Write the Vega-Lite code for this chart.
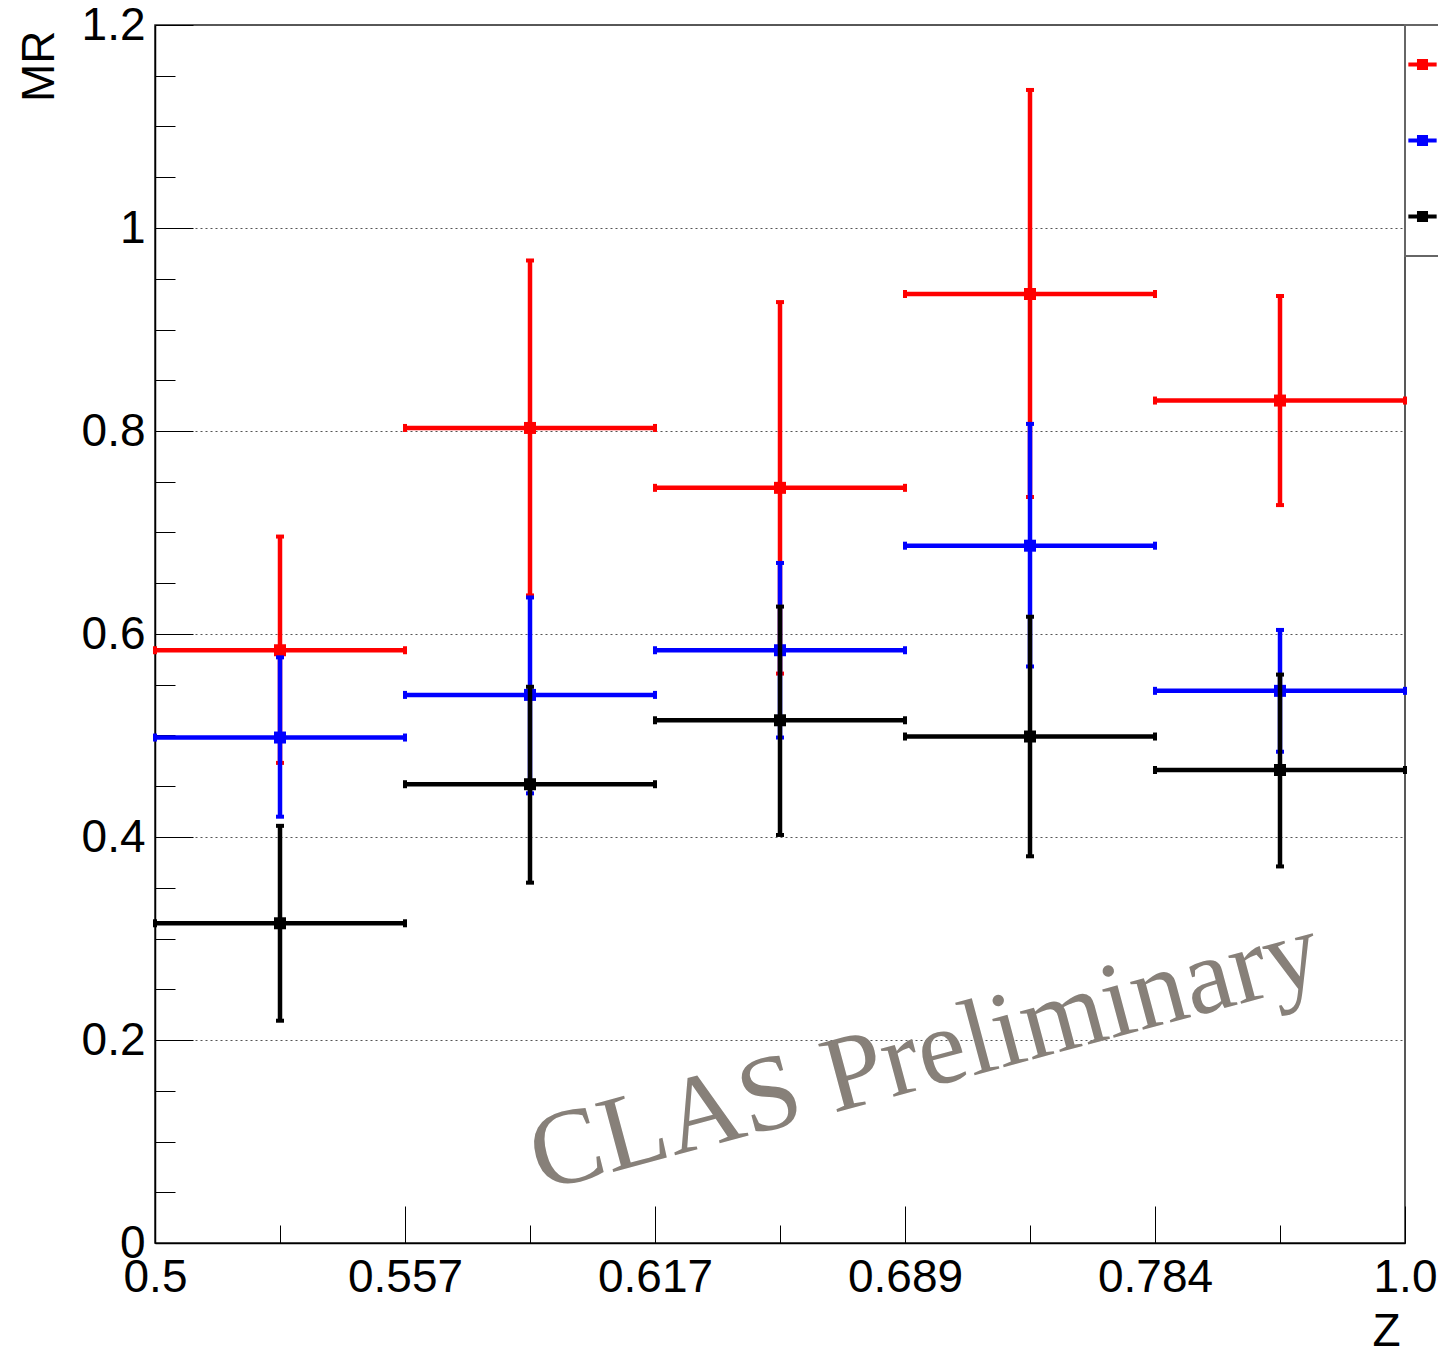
{
  "$schema": "https://vega.github.io/schema/vega-lite/v6.json",
  "width": 1250,
  "height": 1218,
  "autosize": {"type": "none"},
  "padding": {"left": 155, "top": 25, "right": 33, "bottom": 107},
  "background": "white",
  "config": {
    "view": {"stroke": "#222", "strokeWidth": 1.5},
    "font": "Liberation Sans",
    "axis": {"domainColor": "#000", "tickColor": "#000", "labelColor": "#000", "titleColor": "#000"}
  },
  "resolve": {"axis": {"x": "independent", "y": "independent"}},
  "data": {
    "values": [
      {"series": "C", "bin": 0, "xlo": 0, "xc": 0.5, "xhi": 1, "mr": 0.584, "lo": 0.473, "hi": 0.696},
      {"series": "C", "bin": 1, "xlo": 1, "xc": 1.5, "xhi": 2, "mr": 0.803, "lo": 0.638, "hi": 0.968},
      {"series": "C", "bin": 2, "xlo": 2, "xc": 2.5, "xhi": 3, "mr": 0.744, "lo": 0.561, "hi": 0.927},
      {"series": "C", "bin": 3, "xlo": 3, "xc": 3.5, "xhi": 4, "mr": 0.935, "lo": 0.735, "hi": 1.136},
      {"series": "C", "bin": 4, "xlo": 4, "xc": 4.5, "xhi": 5, "mr": 0.830, "lo": 0.727, "hi": 0.933},
      {"series": "Fe", "bin": 0, "xlo": 0, "xc": 0.5, "xhi": 1, "mr": 0.498, "lo": 0.420, "hi": 0.577},
      {"series": "Fe", "bin": 1, "xlo": 1, "xc": 1.5, "xhi": 2, "mr": 0.540, "lo": 0.443, "hi": 0.636},
      {"series": "Fe", "bin": 2, "xlo": 2, "xc": 2.5, "xhi": 3, "mr": 0.584, "lo": 0.498, "hi": 0.670},
      {"series": "Fe", "bin": 3, "xlo": 3, "xc": 3.5, "xhi": 4, "mr": 0.687, "lo": 0.568, "hi": 0.807},
      {"series": "Fe", "bin": 4, "xlo": 4, "xc": 4.5, "xhi": 5, "mr": 0.544, "lo": 0.484, "hi": 0.604},
      {"series": "Pb", "bin": 0, "xlo": 0, "xc": 0.5, "xhi": 1, "mr": 0.315, "lo": 0.219, "hi": 0.411},
      {"series": "Pb", "bin": 1, "xlo": 1, "xc": 1.5, "xhi": 2, "mr": 0.452, "lo": 0.355, "hi": 0.548},
      {"series": "Pb", "bin": 2, "xlo": 2, "xc": 2.5, "xhi": 3, "mr": 0.515, "lo": 0.402, "hi": 0.627},
      {"series": "Pb", "bin": 3, "xlo": 3, "xc": 3.5, "xhi": 4, "mr": 0.499, "lo": 0.381, "hi": 0.617},
      {"series": "Pb", "bin": 4, "xlo": 4, "xc": 4.5, "xhi": 5, "mr": 0.466, "lo": 0.371, "hi": 0.560}
    ]
  },
  "encoding": {
    "color": {
      "field": "series",
      "type": "nominal",
      "scale": {"domain": ["C", "Fe", "Pb"], "range": ["#ff0000", "#0000ff", "#000000"]},
      "legend": {
        "orient": "none",
        "legendX": 1250,
        "legendY": 0,
        "title": null,
        "symbolType": "M-0.41,-0.058H0.41V0.058H-0.41Z M-0.16,-0.16H0.16V0.16H-0.16Z M0,-0.957Z M0,1Z",
        "symbolSize": 4761,
        "symbolStrokeWidth": 0,
        "symbolOffset": -22,
        "padding": 5,
        "rowPadding": 7,
        "strokeColor": "#666",
        "fillColor": "#ffffff",
        "labelFont": "Liberation Sans",
        "labelFontSize": 40,
        "labelOffset": 20,
        "encode": {
          "symbols": {"update": {"fill": {"scale": "color", "field": "value"}, "stroke": {"value": "transparent"}, "opacity": {"value": 1}}},
          "legend": {"update": {"strokeWidth": {"value": 2}}}
        }
      }
    }
  },
  "layer": [
    {
      "transform": [{"filter": "datum.series === 'C'"}],
      "layer": [
        {
          "mark": {"type": "rule", "strokeWidth": 4.5},
          "encoding": {
            "x": {"field": "xlo", "type": "quantitative", "scale": {"domain": [0, 5], "nice": false, "zero": false},
              "axis": {"orient": "bottom", "values": [0.5, 1.5, 2.5, 3.5, 4.5], "tickSize": -18, "tickWidth": 1, "labels": false, "domain": false, "grid": false, "title": null}},
            "x2": {"field": "xhi"},
            "y": {"field": "mr", "type": "quantitative", "scale": {"domain": [0, 1.2], "nice": false, "zero": false},
              "axis": {"orient": "left", "values": [0.05, 0.1, 0.15, 0.25, 0.3, 0.35, 0.45, 0.5, 0.55, 0.65, 0.7, 0.75, 0.85, 0.9, 0.95, 1.05, 1.1, 1.15], "tickSize": -20, "tickWidth": 1, "labels": false, "domain": false, "grid": false, "title": null}}
          }
        },
        {
          "mark": {"type": "rule", "strokeWidth": 4.5},
          "encoding": {
            "x": {"field": "xc", "type": "quantitative"},
            "y": {"field": "lo", "type": "quantitative"},
            "y2": {"field": "hi"}
          }
        },
        {
          "transform": [{"fold": ["xlo", "xhi"], "as": ["k", "v"]}],
          "mark": {"type": "tick", "orient": "vertical", "size": 8, "thickness": 4, "opacity": 1},
          "encoding": {
            "x": {"field": "v", "type": "quantitative"},
            "y": {"field": "mr", "type": "quantitative"}
          }
        },
        {
          "transform": [{"fold": ["lo", "hi"], "as": ["k", "v"]}],
          "mark": {"type": "tick", "orient": "horizontal", "size": 8, "thickness": 4, "opacity": 1},
          "encoding": {
            "x": {"field": "xc", "type": "quantitative"},
            "y": {"field": "v", "type": "quantitative"}
          }
        },
        {
          "mark": {"type": "point", "shape": "square", "filled": true, "size": 144, "opacity": 1},
          "encoding": {
            "x": {"field": "xc", "type": "quantitative"},
            "y": {"field": "mr", "type": "quantitative"}
          }
        }
      ]
    },
    {
      "transform": [{"filter": "datum.series === 'Fe'"}],
      "layer": [
        {
          "mark": {"type": "rule", "strokeWidth": 4.5},
          "encoding": {
            "x": {"field": "xlo", "type": "quantitative", "axis": null},
            "x2": {"field": "xhi"},
            "y": {"field": "mr", "type": "quantitative", "axis": null}
          }
        },
        {
          "mark": {"type": "rule", "strokeWidth": 4.5},
          "encoding": {
            "x": {"field": "xc", "type": "quantitative", "axis": null},
            "y": {"field": "lo", "type": "quantitative", "axis": null},
            "y2": {"field": "hi"}
          }
        },
        {
          "transform": [{"fold": ["xlo", "xhi"], "as": ["k", "v"]}],
          "mark": {"type": "tick", "orient": "vertical", "size": 8, "thickness": 4, "opacity": 1},
          "encoding": {
            "x": {"field": "v", "type": "quantitative", "axis": null},
            "y": {"field": "mr", "type": "quantitative", "axis": null}
          }
        },
        {
          "transform": [{"fold": ["lo", "hi"], "as": ["k", "v"]}],
          "mark": {"type": "tick", "orient": "horizontal", "size": 8, "thickness": 4, "opacity": 1},
          "encoding": {
            "x": {"field": "xc", "type": "quantitative", "axis": null},
            "y": {"field": "v", "type": "quantitative", "axis": null}
          }
        },
        {
          "mark": {"type": "point", "shape": "square", "filled": true, "size": 144, "opacity": 1},
          "encoding": {
            "x": {"field": "xc", "type": "quantitative", "axis": null},
            "y": {"field": "mr", "type": "quantitative", "axis": null}
          }
        }
      ]
    },
    {
      "transform": [{"filter": "datum.series === 'Pb'"}],
      "layer": [
        {
          "mark": {"type": "rule", "strokeWidth": 4.5},
          "encoding": {
            "x": {"field": "xlo", "type": "quantitative", "axis": null},
            "x2": {"field": "xhi"},
            "y": {"field": "mr", "type": "quantitative", "axis": null}
          }
        },
        {
          "mark": {"type": "rule", "strokeWidth": 4.5},
          "encoding": {
            "x": {"field": "xc", "type": "quantitative", "axis": null},
            "y": {"field": "lo", "type": "quantitative", "axis": null},
            "y2": {"field": "hi"}
          }
        },
        {
          "transform": [{"fold": ["xlo", "xhi"], "as": ["k", "v"]}],
          "mark": {"type": "tick", "orient": "vertical", "size": 8, "thickness": 4, "opacity": 1},
          "encoding": {
            "x": {"field": "v", "type": "quantitative", "axis": null},
            "y": {"field": "mr", "type": "quantitative", "axis": null}
          }
        },
        {
          "transform": [{"fold": ["lo", "hi"], "as": ["k", "v"]}],
          "mark": {"type": "tick", "orient": "horizontal", "size": 8, "thickness": 4, "opacity": 1},
          "encoding": {
            "x": {"field": "xc", "type": "quantitative", "axis": null},
            "y": {"field": "v", "type": "quantitative", "axis": null}
          }
        },
        {
          "mark": {"type": "point", "shape": "square", "filled": true, "size": 144, "opacity": 1},
          "encoding": {
            "x": {"field": "xc", "type": "quantitative", "axis": null},
            "y": {"field": "mr", "type": "quantitative", "axis": null}
          }
        }
      ]
    },
    {
      "data": {"values": [{"label": "CLAS Preliminary"}]},
      "mark": {"type": "text", "angle": -15, "font": "Liberation Serif", "fontSize": 108, "align": "center", "baseline": "middle"},
      "encoding": {
        "text": {"field": "label"},
        "color": {"value": "#878079"},
        "x": {"datum": 3.08, "type": "quantitative",
          "axis": {"orient": "bottom", "values": [0, 1, 2, 3, 4, 5],
            "labelExpr": "['0.5','0.557','0.617','0.689','0.784','1.0'][datum.value]",
            "tickSize": -37, "tickWidth": 1, "labelPadding": 49, "labelFont": "Liberation Sans", "labelFontSize": 46,
            "labelFlush": false, "labelOverlap": false, "labelBound": false, "grid": false, "domainWidth": 1.5,
            "title": "Z", "titleFont": "Liberation Sans", "titleFontSize": 46, "titleFontWeight": "normal",
            "titleX": 1245, "titleY": 102, "titleAlign": "right", "titleBaseline": "alphabetic", "titleAngle": 0}},
        "y": {"datum": 0.185, "type": "quantitative",
          "axis": {"orient": "left", "values": [0, 0.2, 0.4, 0.6, 0.8, 1, 1.2], "format": "~g",
            "tickSize": -38, "tickWidth": 1, "labelPadding": 48, "labelFont": "Liberation Sans", "labelFontSize": 46,
            "labelFlush": false, "labelOverlap": false, "labelBound": false,
            "grid": true, "gridDash": [2, 3], "gridColor": "#555", "gridWidth": 1, "domainWidth": 1.5,
            "title": "MR", "titleFont": "Liberation Sans", "titleFontSize": 46, "titleFontWeight": "normal",
            "titleAngle": 270, "titleAlign": "right", "titleBaseline": "alphabetic", "titleX": -102, "titleY": 5}}
      }
    }
  ]
}
